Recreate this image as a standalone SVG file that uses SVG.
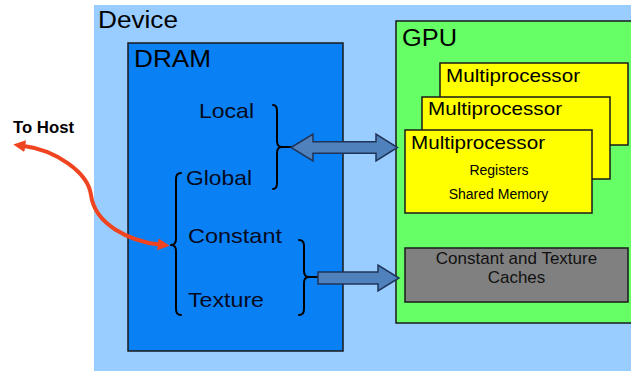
<svg xmlns="http://www.w3.org/2000/svg" width="631" height="371" viewBox="0 0 631 371">
  <style>
    text { font-family: "Liberation Sans", Arial, sans-serif; fill: #000; }
    .title { font-size: 23px; }
    .mem { font-size: 21px; fill: #050a1e; }
    .mp { font-size: 19px; }
    .small { font-size: 14px; }
    .cache { font-size: 17px; fill: #111; }
    .box { stroke: #1a1a1a; stroke-width: 1.5; }
    .brace { fill: none; stroke: #000; stroke-width: 2; stroke-linecap: round; stroke-linejoin: round; }
    .bigarrow { fill: #4f81bd; stroke: #1f3458; stroke-width: 1.5; stroke-linejoin: miter; }
    .host { fill: none; stroke: #f04420; stroke-width: 4; }
  </style>
  <defs>
    <marker id="redHead" viewBox="0 0 10 10" refX="1" refY="5" markerUnits="userSpaceOnUse" markerWidth="12" markerHeight="12" orient="auto-start-reverse">
      <path d="M0,0 L10,5 L0,10 Z" fill="#f04420"/>
    </marker>
  </defs>

  <rect width="631" height="371" fill="#ffffff"/>

  <!-- Device board -->
  <g id="device">
    <rect x="94" y="5" width="540" height="370" fill="#99ccff"/>
    <text class="title" x="98" y="28" textLength="80" lengthAdjust="spacingAndGlyphs">Device</text>
  </g>

  <!-- DRAM with its memory spaces -->
  <g id="dram">
    <rect class="box" x="128" y="43" width="215" height="308" fill="#0a80f5"/>
    <text class="title" x="134" y="67" textLength="77" lengthAdjust="spacingAndGlyphs">DRAM</text>
    <text class="mem" x="199" y="118" textLength="55" lengthAdjust="spacingAndGlyphs">Local</text>
    <text class="mem" x="186" y="185" textLength="66" lengthAdjust="spacingAndGlyphs">Global</text>
    <text class="mem" x="188" y="243" textLength="94" lengthAdjust="spacingAndGlyphs">Constant</text>
    <text class="mem" x="188" y="307" textLength="76" lengthAdjust="spacingAndGlyphs">Texture</text>
    <!-- braces grouping the memory spaces -->
    <path class="brace" d="M273,105 Q277,105 277,111 L277,141 Q277,147 282,147 Q277,147 277,153 L277,183 Q277,189 273,189"/>
    <path class="brace" d="M181,173 Q176,173 176,179 L176,239 Q176,245 171,245 Q176,245 176,251 L176,309 Q176,315 181,315"/>
    <path class="brace" d="M299,240 Q304,240 304,246 L304,271 Q304,277 309,277 Q304,277 304,283 L304,309 Q304,315 299,315"/>
  </g>

  <!-- GPU with multiprocessors and caches -->
  <g id="gpu">
    <rect class="box" x="396" y="21" width="250" height="302" fill="#66ff66"/>
    <text class="title" x="402" y="46" textLength="55" lengthAdjust="spacingAndGlyphs">GPU</text>
  </g>

  <g id="multiprocessor-3">
    <rect class="box" x="440" y="63" width="188" height="82" fill="#ffff00"/>
    <text class="mp" x="446" y="82" textLength="134" lengthAdjust="spacingAndGlyphs">Multiprocessor</text>
  </g>

  <g id="multiprocessor-2">
    <rect class="box" x="422" y="97" width="188" height="82" fill="#ffff00"/>
    <text class="mp" x="428" y="115" textLength="134" lengthAdjust="spacingAndGlyphs">Multiprocessor</text>
  </g>

  <g id="multiprocessor-1">
    <rect class="box" x="405" y="130" width="187" height="83" fill="#ffff00"/>
    <text class="mp" x="411" y="149" textLength="134" lengthAdjust="spacingAndGlyphs">Multiprocessor</text>
    <text class="small" x="499" y="175" text-anchor="middle">Registers</text>
    <text class="small" x="498.5" y="199" text-anchor="middle">Shared Memory</text>
  </g>

  <g id="caches">
    <rect class="box" x="405" y="248" width="223" height="54" fill="#808080"/>
    <text class="cache" x="516.5" y="264" text-anchor="middle">Constant and Texture</text>
    <text class="cache" x="516.5" y="283" text-anchor="middle">Caches</text>
  </g>

  <g id="host">
    <text x="13" y="133" font-size="16" font-weight="bold" fill="#111" textLength="61" lengthAdjust="spacingAndGlyphs">To Host</text>
  </g>

  <!-- Connectors -->
  <g id="connectors">
    <line x1="282" y1="147" x2="292" y2="147" stroke="#000" stroke-width="2"/>
    <line x1="309" y1="277" x2="318" y2="277" stroke="#000" stroke-width="2"/>
    <polygon class="bigarrow" points="291,147.5 313,134 313,141.7 376,141.7 376,134 397.5,147.5 376,161 376,153.3 313,153.3 313,161"/>
    <polygon class="bigarrow" points="318,272 378,272 378,265 399,278 378,291 378,284 318,284"/>
    <path class="host" d="M24,146 C55,150 88,172 91,195 C95,225 130,241 159,244.5" marker-start="url(#redHead)" marker-end="url(#redHead)"/>
  </g>
</svg>
